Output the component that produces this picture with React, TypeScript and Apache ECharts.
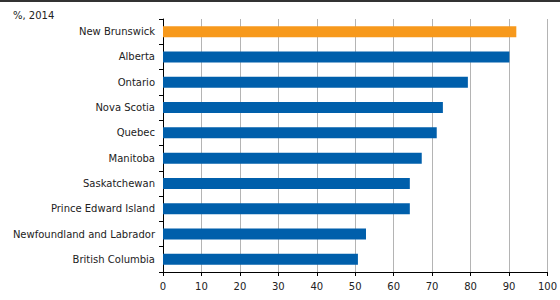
import React, { useEffect, useRef } from "react";
import * as echarts from "echarts";

const categories = [
  "New Brunswick",
  "Alberta",
  "Ontario",
  "Nova Scotia",
  "Quebec",
  "Manitoba",
  "Saskatchewan",
  "Prince Edward Island",
  "Newfoundland and Labrador",
  "British Columbia",
];
const values = [91.9, 90.1, 79.3, 72.8, 71.2, 67.3, 64.2, 64.2, 52.8, 50.7];
const highlight = "New Brunswick";
const xTicks = [0, 10, 20, 30, 40, 50, 60, 70, 80, 90, 100];

const FONT = "DejaVu Sans";

export default function App() {
  const ref = useRef<HTMLDivElement>(null);
  useEffect(() => {
    if (!ref.current) return;
    const chart = echarts.init(ref.current, undefined, { renderer: "svg" });
    chart.setOption({
      animation: false,
      backgroundColor: "#ffffff",
      textStyle: { fontFamily: FONT },
      title: {
        text: "%, 2014",
        left: 8,
        top: 5,
        textStyle: { fontSize: 10, fontWeight: "normal", color: "#222", fontFamily: FONT },
      },
      graphic: [
        {
          type: "rect",
          shape: { x: 0, y: 0, width: 560, height: 2 },
          style: { fill: "#333333" },
        },
      ],
      grid: { left: 163, right: 11, top: 19, bottom: 28, containLabel: false },
      xAxis: {
        type: "value",
        min: xTicks[0],
        max: xTicks[xTicks.length - 1],
        interval: 10,
        axisLine: { show: true, lineStyle: { color: "#000", width: 1 } },
        axisTick: { show: true, length: 4, lineStyle: { color: "#000" } },
        axisLabel: { color: "#222", fontSize: 10, margin: 9, fontFamily: FONT },
        splitLine: { show: true, lineStyle: { color: "#b4b4b4", width: 1 } },
      },
      yAxis: {
        type: "category",
        data: categories,
        inverse: true,
        axisLine: { show: true, lineStyle: { color: "#000", width: 1 } },
        axisTick: { show: true, length: 4, lineStyle: { color: "#000" } },
        axisLabel: { color: "#222", fontSize: 10, margin: 8, fontFamily: FONT },
        splitLine: { show: false },
      },
      series: [
        {
          type: "bar",
          data: categories.map((c, i) => ({
            value: values[i],
            itemStyle: { color: c === highlight ? "#f7991c" : "#005fab" },
          })),
          barWidth: 11,
        },
      ],
    });
    return () => chart.dispose();
  }, []);
  return <div ref={ref} style={{ width: 560, height: 300, position: "absolute", left: 0, top: 0 }} />;
}
